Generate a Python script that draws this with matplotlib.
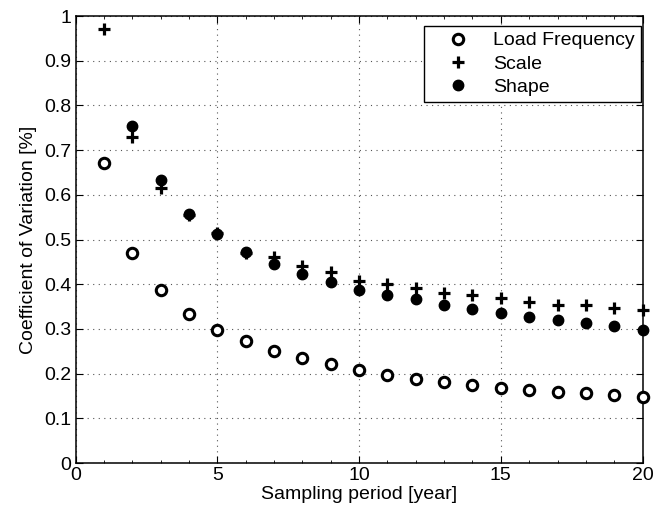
import matplotlib.pyplot as plt
from matplotlib.ticker import MultipleLocator

plt.rcParams["font.family"] = ["Liberation Sans", "DejaVu Sans"]

period = list(range(1, 21))
load_freq = [0.672, 0.470, 0.388, 0.333, 0.297, 0.272, 0.250, 0.234, 0.221, 0.208,
             0.196, 0.189, 0.182, 0.175, 0.169, 0.164, 0.160, 0.156, 0.152, 0.147]
scale = [0.970, 0.729, 0.615, 0.555, 0.515, 0.470, 0.461, 0.442, 0.427, 0.407,
         0.401, 0.391, 0.381, 0.377, 0.369, 0.361, 0.354, 0.353, 0.348, 0.342]
shape_period = list(range(2, 21))
shape = [0.754, 0.634, 0.557, 0.513, 0.472, 0.446, 0.424, 0.406, 0.388,
         0.376, 0.368, 0.353, 0.345, 0.336, 0.327, 0.320, 0.313, 0.306, 0.297]

fig = plt.figure(figsize=(6.54, 5.18), dpi=100)
ax = fig.add_axes([0.1155, 0.106, 0.867, 0.863])

ax.plot(period, load_freq, linestyle="none", marker="o", markersize=7.5,
        markerfacecolor="white", markeredgecolor="black", markeredgewidth=2.2,
        label="Load Frequency", clip_on=False, zorder=3)
ax.plot(period, scale, linestyle="none", marker="+", markersize=8.5,
        color="black", markeredgewidth=2.3, label="Scale", clip_on=False, zorder=3)
ax.plot(shape_period, shape, linestyle="none", marker="o", markersize=7.5,
        color="black", label="Shape", clip_on=False, zorder=4)

ax.set_xlim(0, 20)
ax.set_ylim(0, 1)
ax.set_xticks([0, 5, 10, 15, 20])
ax.set_yticks([i / 10 for i in range(11)])
ax.set_yticklabels(["0", "0.1", "0.2", "0.3", "0.4", "0.5", "0.6", "0.7", "0.8", "0.9", "1"])
ax.xaxis.set_minor_locator(MultipleLocator(1))
ax.tick_params(which="both", direction="in", top=True, right=True, labelsize=14)
ax.tick_params(which="major", length=5, width=0.8, pad=3)
ax.tick_params(which="minor", length=2.5, width=0.6)
ax.grid(True, linestyle=(0, (1, 4)), color="#555555", linewidth=0.8)
for sp in ax.spines.values():
    sp.set_linewidth(1.1)

ax.set_xlabel("Sampling period [year]", fontsize=14, labelpad=1)
ax.set_ylabel("Coefficient of Variation [%]", fontsize=14, labelpad=5)

leg = ax.legend(loc="upper right", bbox_to_anchor=(0.9965, 0.978), fontsize=14,
                fancybox=False, framealpha=1, edgecolor="black", borderaxespad=0,
                handletextpad=0.35, handlelength=2.9, labelspacing=0.3,
                borderpad=0.3)
leg.get_frame().set_linewidth(1.0)

fig.savefig("out.png", dpi=100)
